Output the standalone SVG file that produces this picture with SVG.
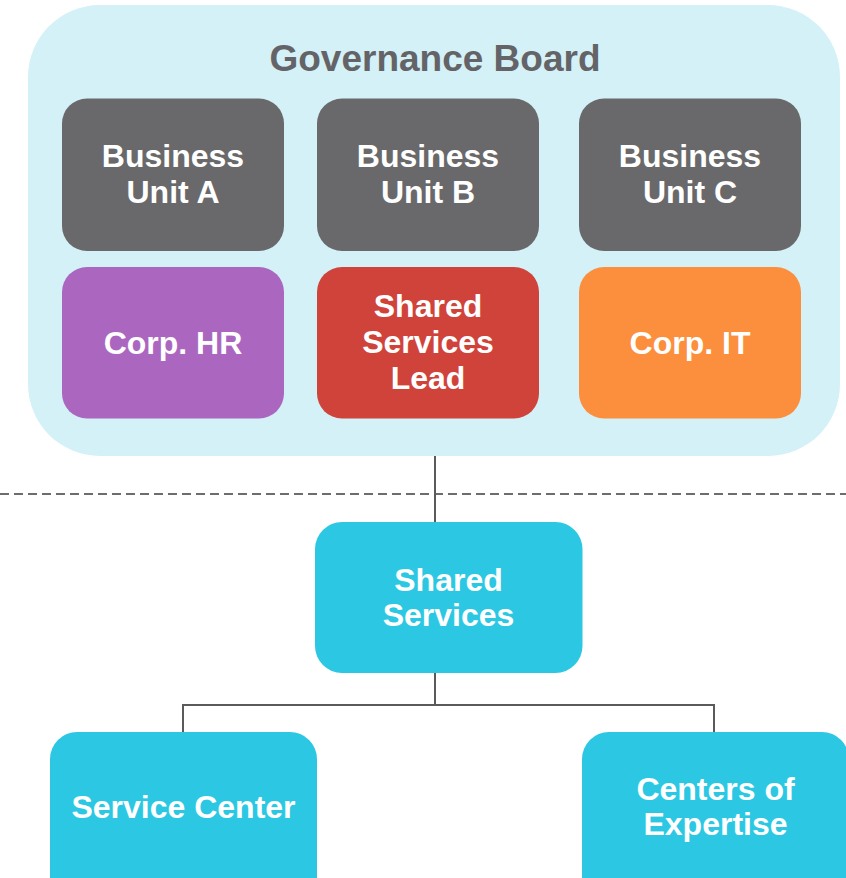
<svg xmlns="http://www.w3.org/2000/svg" width="846" height="878" viewBox="0 0 846 878">
<style>
.lbl{font-family:"Liberation Sans",Arial,sans-serif;font-weight:bold;font-size:32px;fill:#ffffff;text-anchor:middle}
.title{font-family:"Liberation Sans",Arial,sans-serif;font-weight:bold;font-size:37px;fill:#646468;text-anchor:middle}
.gray{fill:#69696b}
.cyan{fill:#2cc8e3}
.conn{stroke:#5a5a5c;stroke-width:2;fill:none}
</style>
<rect width="846" height="878" fill="#ffffff"/>
<g id="governance-board">
<rect x="28" y="5" width="812" height="451" rx="72" ry="72" fill="#d3f1f7"/>
<text class="title" x="435" y="71">Governance Board</text>
</g>
<g id="connectors">
<line x1="0" y1="494" x2="846" y2="494" stroke="#6d6d6d" stroke-width="2" stroke-dasharray="9,5"/>
<path class="conn" d="M435 456 V522"/>
<path class="conn" d="M435 672 V705 M183 705 H714 M183 704 V732 M714 704 V732"/>
</g>
<g id="business-unit-a">
<rect class="gray" x="62" y="98.5" width="222" height="152.5" rx="25"/>
<text class="lbl" x="173" y="167">Business</text>
<text class="lbl" x="173" y="203">Unit A</text>
</g>
<g id="business-unit-b">
<rect class="gray" x="317" y="98.5" width="222" height="152.5" rx="25"/>
<text class="lbl" x="428" y="167">Business</text>
<text class="lbl" x="428" y="203">Unit B</text>
</g>
<g id="business-unit-c">
<rect class="gray" x="579" y="98.5" width="222" height="152.5" rx="25"/>
<text class="lbl" x="690" y="167">Business</text>
<text class="lbl" x="690" y="203">Unit C</text>
</g>
<g id="corp-hr">
<rect x="62" y="267" width="222" height="151.5" rx="25" fill="#ab67c0"/>
<text class="lbl" x="173" y="354">Corp. HR</text>
</g>
<g id="shared-services-lead">
<rect x="317" y="267" width="222" height="151.5" rx="25" fill="#d0433a"/>
<text class="lbl" x="428" y="317">Shared</text>
<text class="lbl" x="428" y="353">Services</text>
<text class="lbl" x="428" y="388.5">Lead</text>
</g>
<g id="corp-it">
<rect x="579" y="267" width="222" height="151.5" rx="25" fill="#fc8f3d"/>
<text class="lbl" x="690" y="354">Corp. IT</text>
</g>
<g id="shared-services">
<rect class="cyan" x="315" y="522" width="267.5" height="151" rx="27"/>
<text class="lbl" x="448.5" y="591">Shared</text>
<text class="lbl" x="448.5" y="626">Services</text>
</g>
<g id="service-center">
<rect class="cyan" x="50" y="732" width="267" height="180" rx="27"/>
<text class="lbl" x="183.5" y="818">Service Center</text>
</g>
<g id="centers-of-expertise">
<rect class="cyan" x="582" y="732" width="267" height="180" rx="27"/>
<text class="lbl" x="715.5" y="799.5">Centers of</text>
<text class="lbl" x="715.5" y="835">Expertise</text>
</g>
</svg>
